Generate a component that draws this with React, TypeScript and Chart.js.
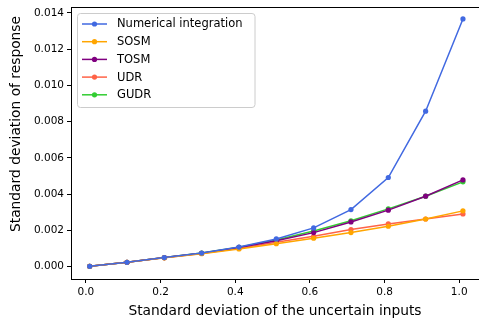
import React, { useEffect, useRef } from "react";
import { Chart, registerables } from "chart.js";

Chart.register(...registerables);

const xValues = [0.01, 0.11, 0.21, 0.31, 0.41, 0.51, 0.61, 0.71, 0.81, 0.91, 1.01];
const numerical = [0.00002, 0.00024, 0.0005, 0.00075, 0.00108, 0.00153, 0.00214, 0.00315, 0.00492, 0.00858, 0.01367];
const sosm = [0.00002, 0.00024, 0.00049, 0.00072, 0.00098, 0.00127, 0.00157, 0.00188, 0.00223, 0.00263, 0.00308];
const tosm = [0.00002, 0.00024, 0.0005, 0.00074, 0.00106, 0.00143, 0.00188, 0.00247, 0.00312, 0.00389, 0.00479];
const udr = [0.00002, 0.00024, 0.00049, 0.00073, 0.00101, 0.00135, 0.00168, 0.00205, 0.00236, 0.00263, 0.00291];
const gudr = [0.00002, 0.00024, 0.0005, 0.00075, 0.00107, 0.00147, 0.00197, 0.00253, 0.00319, 0.00389, 0.00468];

const seriesNames = ["Numerical integration", "SOSM", "TOSM", "UDR", "GUDR"];
const seriesColors = ["#4169E1", "#FFA500", "#800080", "#FF6347", "#32CD32"];
const xTicks = [0.0, 0.2, 0.4, 0.6, 0.8, 1.0];
const yTicks = [0.0, 0.002, 0.004, 0.006, 0.008, 0.01, 0.012, 0.014];
const xTitle = "Standard deviation of the uncertain inputs";
const yTitle = "Standard deviation of response";

const FONT = "'DejaVu Sans', sans-serif";

export default function App() {
  const ref = useRef<HTMLCanvasElement | null>(null);
  useEffect(() => {
    const canvas = ref.current;
    if (!canvas) return;
    const all = [numerical, sosm, tosm, udr, gudr];
    const datasets = all.map((vals, i) => ({
      label: seriesNames[i],
      data: vals.map((v, j) => ({ x: xValues[j], y: v })),
      borderColor: seriesColors[i],
      backgroundColor: seriesColors[i],
      borderWidth: 1.5,
      pointRadius: 2.6,
      pointBorderWidth: 0,
      pointHoverRadius: 2.6,
      tension: 0,
    }));

    const framePlugin = {
      id: "frame",
      afterDraw(chart: any) {
        const { ctx, chartArea } = chart;
        ctx.save();
        ctx.strokeStyle = "#000";
        ctx.lineWidth = 1;
        ctx.beginPath();
        ctx.moveTo(chartArea.left, chartArea.top + 0.5);
        ctx.lineTo(chart.width, chartArea.top + 0.5);
        ctx.stroke();
        // y title
        ctx.save();
        ctx.translate(16, 124);
        ctx.rotate(-Math.PI / 2);
        ctx.font = `13.8px ${FONT}`;
        ctx.fillStyle = "#000";
        ctx.textAlign = "center";
        ctx.textBaseline = "middle";
        ctx.fillText(yTitle, 0, 0);
        ctx.restore();
        // legend
        const lx = 77.5, ly = 13.5, lw = 177.5, lh = 94, r = 3;
        ctx.beginPath();
        ctx.moveTo(lx + r, ly);
        ctx.lineTo(lx + lw - r, ly);
        ctx.quadraticCurveTo(lx + lw, ly, lx + lw, ly + r);
        ctx.lineTo(lx + lw, ly + lh - r);
        ctx.quadraticCurveTo(lx + lw, ly + lh, lx + lw - r, ly + lh);
        ctx.lineTo(lx + r, ly + lh);
        ctx.quadraticCurveTo(lx, ly + lh, lx, ly + lh - r);
        ctx.lineTo(lx, ly + r);
        ctx.quadraticCurveTo(lx, ly, lx + r, ly);
        ctx.closePath();
        ctx.fillStyle = "rgba(255,255,255,0.8)";
        ctx.fill();
        ctx.strokeStyle = "#cccccc";
        ctx.stroke();
        ctx.font = `11.5px ${FONT}`;
        ctx.textBaseline = "middle";
        ctx.textAlign = "left";
        seriesNames.forEach((name, i) => {
          const y = 24 + i * 17.7;
          ctx.strokeStyle = seriesColors[i];
          ctx.lineWidth = 1.5;
          ctx.beginPath();
          ctx.moveTo(82, y);
          ctx.lineTo(107, y);
          ctx.stroke();
          ctx.fillStyle = seriesColors[i];
          ctx.beginPath();
          ctx.arc(94.5, y, 2.6, 0, Math.PI * 2);
          ctx.fill();
          ctx.fillStyle = "#000";
          ctx.fillText(name, 117, y + 0.5);
        });
        ctx.restore();
      },
    };

    const chart = new Chart(canvas, {
      type: "line",
      data: { datasets },
      plugins: [framePlugin],
      options: {
        responsive: false,
        animation: false,
        layout: { autoPadding: false, padding: { top: 7, right: 0, left: 0, bottom: 0 } },
        plugins: { legend: { display: false }, tooltip: { enabled: false } },
        scales: {
          x: {
            type: "linear",
            min: -0.04,
            max: 1.053,
            afterBuildTicks: (s: any) => {
              s.ticks = xTicks.map((v) => ({ value: v }));
            },
            afterFit: (s: any) => {
              s.height = 45;
              s.paddingLeft = 0;
              s.paddingRight = 0;
            },
            ticks: {
              font: { family: FONT, size: 10.5 },
              color: "#000",
              padding: 3,
              maxRotation: 0,
              autoSkip: false,
              callback: (v: any) => Number(v).toFixed(1),
            },
            grid: { drawOnChartArea: false, drawTicks: true, tickLength: 4, color: "#000" },
            border: { display: true, color: "#000", width: 1 },
            title: {
              display: true,
              text: xTitle,
              font: { family: FONT, size: 13.8 },
              color: "#000",
              padding: { top: 0, bottom: 4 },
            },
          },
          y: {
            type: "linear",
            min: -0.00068,
            max: 0.01433,
            afterBuildTicks: (s: any) => {
              s.ticks = yTicks.map((v) => ({ value: v }));
            },
            afterFit: (s: any) => {
              s.width = 71;
              s.paddingTop = 0;
              s.paddingBottom = 0;
            },
            ticks: {
              font: { family: FONT, size: 10.5 },
              color: "#000",
              padding: 3,
              autoSkip: false,
              callback: (v: any) => Number(v).toFixed(3),
            },
            grid: { drawOnChartArea: false, drawTicks: true, tickLength: 4, color: "#000" },
            border: { display: true, color: "#000", width: 1 },
            title: { display: false },
          },
        },
      },
    });
    return () => chart.destroy();
  }, []);
  return (
    <div style={{ position: "fixed", left: 0, top: 0, width: 479, height: 324, background: "#fff", overflow: "hidden" }}>
      <canvas ref={ref} width={479} height={324} style={{ width: 479, height: 324 }} />
    </div>
  );
}
